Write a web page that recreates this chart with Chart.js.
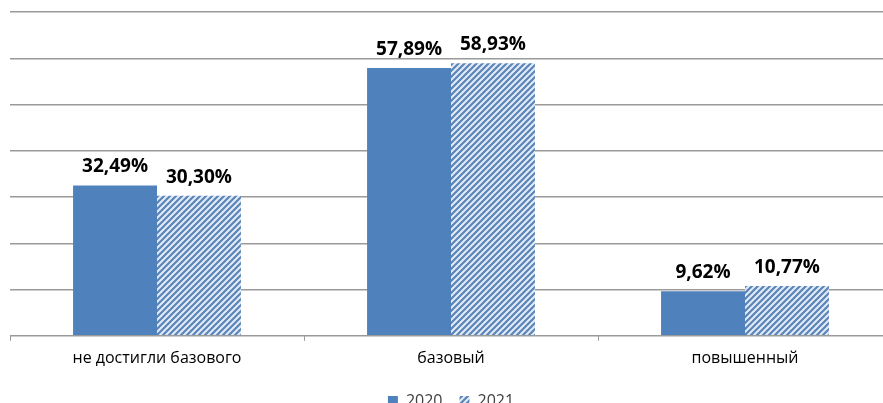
<!DOCTYPE html>
<html>
<head>
<meta charset="utf-8">
<script src="https://cdn.jsdelivr.net/npm/chart.js@4/dist/chart.umd.min.js"></script>
<style>
  html, body { margin: 0; padding: 0; background: #fff; overflow: hidden; }
  #wrap { position: relative; width: 883px; height: 403px; overflow: hidden; }
  #chart { position: absolute; left: 0; top: 0; }
</style>
</head>
<body>
<div id="wrap"><canvas id="chart" width="902" height="419"></canvas></div>
<script>
// Data
const categories = ['не достигли базового', 'базовый', 'повышенный'];
const seriesNames = ['2020', '2021'];
const values2020 = [32.49, 57.89, 9.62];
const values2021 = [30.30, 58.93, 10.77];

const blue = '#4f81bd';

// Diagonal hatch for 2021
function makeHatch() {
    const size = 6;
    const c = document.createElement('canvas');
    c.width = size;
    c.height = size;
    const g = c.getContext('2d');
    g.fillStyle = '#e2ecf7';
    g.fillRect(0, 0, size, size);
    g.strokeStyle = '#5b84b8';
    g.lineWidth = 2.2;
    g.beginPath();
    g.moveTo(-1, size + 1); g.lineTo(size + 1, -1);
    g.moveTo(-1, 1); g.lineTo(1, -1);
    g.moveTo(size - 1, size + 1); g.lineTo(size + 1, size - 1);
    g.stroke();
    return document.getElementById('chart').getContext('2d').createPattern(c, 'repeat');
}
const hatch = makeHatch();

// Draw value labels above bars
const valueLabels = {
    id: 'valueLabels',
    afterDatasetsDraw(chart) {
        const ctx = chart.ctx;
        ctx.save();
        ctx.font = 'bold 19px "Open Sans"';
        ctx.fillStyle = '#000';
        ctx.textAlign = 'center';
        ctx.textBaseline = 'bottom';
        chart.data.datasets.forEach((ds, i) => {
            chart.getDatasetMeta(i).data.forEach((bar, j) => {
                const txt = ds.data[j].toFixed(2).replace('.', ',') + '%';
                ctx.fillText(txt, bar.x, bar.y - 9);
            });
        });
        ctx.restore();
    }
};

let chart = new Chart(document.getElementById('chart').getContext('2d'), {
    type: 'bar',
    data: {
        labels: categories,
        datasets: [{
            label: seriesNames[0],
            data: values2020,
            backgroundColor: blue,
            categoryPercentage: 0.571,
            barPercentage: 1
        }, {
            label: seriesNames[1],
            data: values2021,
            backgroundColor: hatch,
            categoryPercentage: 0.571,
            barPercentage: 1
        }]
    },
    options: {
        responsive: false,
        animation: false,
        layout: { padding: { left: 10, right: 10, top: 12, bottom: 0 } },
        plugins: {
            tooltip: { enabled: false },
            legend: {
                position: 'bottom',
                labels: {
                    font: { family: '"Open Sans"', size: 16 },
                    color: '#404040',
                    boxWidth: 10,
                    boxHeight: 10,
                    padding: 17
                }
            }
        },
        scales: {
            x: {
                grid: { drawOnChartArea: false, drawTicks: true, tickLength: 5, color: '#9a9a9a' },
                border: { color: '#9a9a9a', width: 1 },
                ticks: { font: { family: '"Open Sans"', size: 16 }, color: '#000', padding: 8 }
            },
            y: {
                min: 0,
                max: 70,
                ticks: { display: false, stepSize: 10 },
                grid: { color: '#9a9a9a', lineWidth: 1.5, drawTicks: false },
                border: { display: false }
            }
        }
    },
    plugins: [valueLabels]
});
</script>
</body>
</html>
